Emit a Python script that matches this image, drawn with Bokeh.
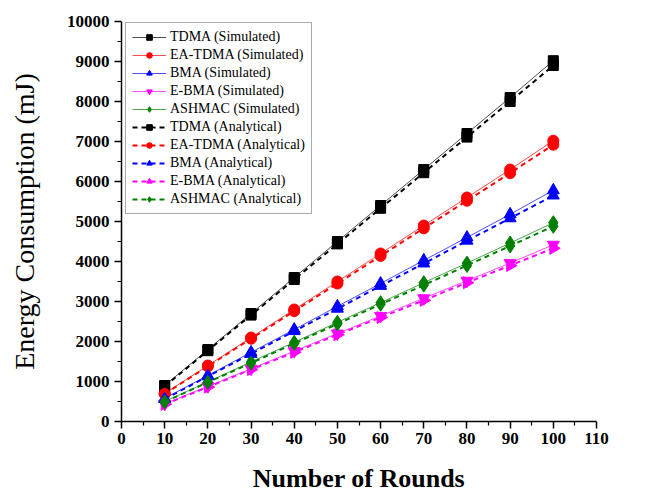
import math
from bokeh.plotting import figure
from bokeh.models import Legend, LegendItem, FixedTicker, Range1d
from bokeh.embed import file_html
from bokeh.resources import INLINE

rounds = [10, 20, 30, 40, 50, 60, 70, 80, 90, 100]

tdma_sim = [900, 1800, 2700, 3600, 4500, 5400, 6300, 7200, 8100, 9020]
ea_tdma_sim = [700, 1400, 2100, 2800, 3500, 4200, 4900, 5600, 6300, 7020]
bma_sim = [580, 1150, 1730, 2300, 2880, 3450, 4030, 4600, 5180, 5780]
ebma_sim = [440, 880, 1320, 1760, 2200, 2640, 3080, 3520, 3960, 4420]
ashmac_sim = [500, 990, 1490, 1980, 2480, 2970, 3470, 3960, 4460, 4970]

tdma_ana = [880, 1770, 2660, 3550, 4440, 5330, 6220, 7110, 8000, 8900]
ea_tdma_ana = [690, 1380, 2070, 2760, 3450, 4140, 4830, 5520, 6210, 6920]
bma_ana = [560, 1130, 1690, 2260, 2820, 3390, 3950, 4520, 5080, 5650]
ebma_ana = [430, 860, 1300, 1730, 2170, 2600, 3030, 3470, 3900, 4330]
ashmac_ana = [490, 980, 1460, 1950, 2440, 2930, 3410, 3900, 4390, 4880]

names = ["TDMA", "EA-TDMA", "BMA", "E-BMA", "ASHMAC"]
sim_series = [tdma_sim, ea_tdma_sim, bma_sim, ebma_sim, ashmac_sim]
ana_series = [tdma_ana, ea_tdma_ana, bma_ana, ebma_ana, ashmac_ana]
colors = ["#000000", "#ff0000", "#0000ff", "#ff00ff", "#008000"]
sim_markers = ["square", "circle", "triangle", "inverted_triangle", "diamond"]
ana_markers = ["square", "circle", "triangle", "triangle", "diamond"]
ana_angles = [0, 0, 0, -math.pi / 2, 0]
sizes = [10, 11, 12, 12, 14]

x_ticks = [0, 10, 20, 30, 40, 50, 60, 70, 80, 90, 100, 110]
y_ticks = [0, 1000, 2000, 3000, 4000, 5000, 6000, 7000, 8000, 9000, 10000]

p = figure(width=646, height=495, output_backend="svg", toolbar_location=None,
           x_range=Range1d(0, 110), y_range=Range1d(0, 10000),
           min_border_left=121, min_border_right=50, min_border_top=21, min_border_bottom=74)
p.outline_line_color = None
p.grid.visible = False
p.background_fill_color = "white"

font = "Liberation Serif"
for ax in (p.xaxis[0], p.yaxis[0]):
    ax.major_label_text_font = font
    ax.major_label_text_font_style = "bold"
    ax.major_label_text_font_size = "17px"
    ax.major_label_text_color = "black"
    ax.axis_label_text_font = font
    ax.axis_label_text_color = "black"
    ax.axis_line_color = "black"
    ax.axis_line_width = 1.5
    ax.major_tick_line_color = "black"
    ax.major_tick_line_width = 1.5
    ax.minor_tick_line_color = "black"
    ax.minor_tick_line_width = 1.2
    ax.major_tick_out = 7
    ax.major_tick_in = 0
    ax.minor_tick_out = 4
    ax.minor_tick_in = 0

p.xaxis.ticker = FixedTicker(ticks=x_ticks, minor_ticks=[5 + 10 * i for i in range(11)])
p.yaxis.ticker = FixedTicker(ticks=y_ticks, minor_ticks=[500 + 1000 * i for i in range(10)])
p.xaxis.axis_label = "Number of Rounds"
p.yaxis.axis_label = "Energy Consumption (mJ)"
p.xaxis.axis_label_text_font_style = "bold"
p.xaxis.axis_label_text_font_size = "26px"
p.yaxis.axis_label_text_font_style = "normal"
p.yaxis.axis_label_text_font_size = "28px"
p.xaxis.major_label_standoff = 4
p.xaxis.axis_label_standoff = 17
p.yaxis.axis_label_standoff = 24

items = []
for name, ys, c, m, s in zip(names, sim_series, colors, sim_markers, sizes):
    l = p.line(rounds, ys, line_color=c, line_width=1, line_alpha=0.7)
    r = p.scatter(rounds, ys, marker=m, size=s, fill_color=c, line_color=c)
    items.append(LegendItem(label=name + " (Simulated)", renderers=[l, r]))
for name, ys, c, m, a, s in zip(names, ana_series, colors, ana_markers, ana_angles, sizes):
    l = p.line(rounds, ys, line_color=c, line_width=2, line_dash="5 4")
    r = p.scatter(rounds, ys, marker=m, size=s, fill_color=c, line_color=c, angle=a)
    items.append(LegendItem(label=name + " (Analytical)", renderers=[l, r]))

legend = Legend(items=items, location=(4, 207))
legend.label_text_font = font
legend.label_text_font_size = "14px"
legend.label_text_color = "black"
legend.label_height = 14
legend.glyph_height = 14
legend.glyph_width = 34
legend.spacing = 2
legend.padding = 6
legend.margin = 0
legend.label_standoff = 4
legend.border_line_color = "#555555"
legend.border_line_width = 1.5
legend.background_fill_alpha = 1
p.add_layout(legend)

open("out.html", "w").write(file_html(p, INLINE))
